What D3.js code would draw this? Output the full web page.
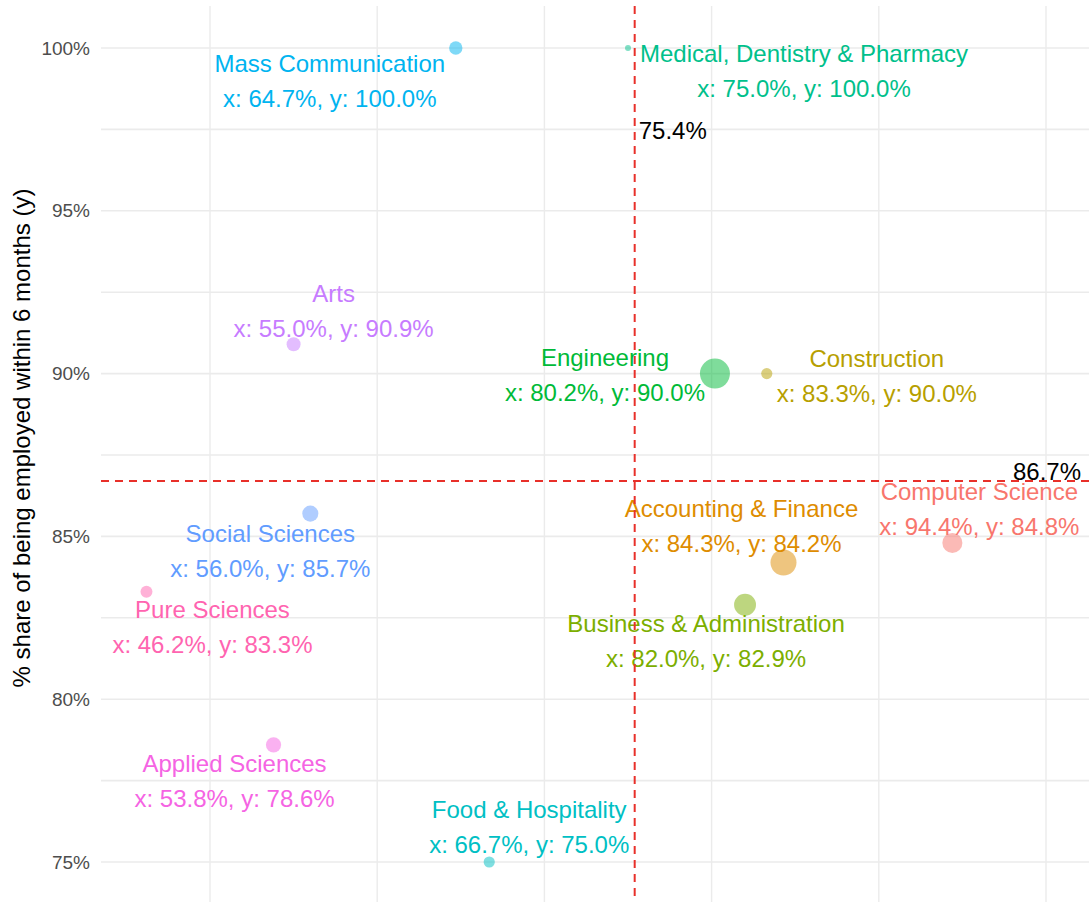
<!DOCTYPE html>
<html>
<head>
<meta charset="utf-8">
<script src="https://cdn.jsdelivr.net/npm/d3@7"></script>
<style>
  body { margin: 0; background: #fff; }
  svg { display: block; font-family: "Liberation Sans", Arial, sans-serif; }
</style>
</head>
<body>
<div id="chart"></div>
<script>
// data
const fields = ["Mass Communication", "Medical, Dentistry & Pharmacy", "Arts", "Engineering",
  "Construction", "Social Sciences", "Computer Science", "Accounting & Finance",
  "Pure Sciences", "Business & Administration", "Applied Sciences", "Food & Hospitality"]
const xValues = [64.7, 75.0, 55.0, 80.2, 83.3, 56.0, 94.4, 84.3, 46.2, 82.0, 53.8, 66.7]
const yValues = [100.0, 100.0, 90.9, 90.0, 90.0, 85.7, 84.8, 84.2, 83.3, 82.9, 78.6, 75.0]
const respondents = [20, 4, 22, 101, 14, 29, 45, 76, 16, 54, 26, 14]
const fieldColors = ["#00B4F0", "#00C08B", "#C77CFF", "#00BA38", "#B79F00", "#619CFF",
  "#F8766D", "#DE8C00", "#FF64B0", "#7CAE00", "#F564E3", "#00BFC4"]
const xMean = 75.4
, yMean = 86.7
const yTicks = [75, 80, 85, 90, 95, 100]
const yMinor = [77.5, 82.5, 87.5, 92.5, 97.5]
const xGrid = [50, 60, 70, 80, 90, 100]
const yTitle = "% share of being employed within 6 months (y)"

// label placement relative to each point (px): [dx, dy of first baseline]
const labelOffsets = [[-126, 24], [176, 14], [40, -42], [-110, -8], [110, -7], [-40, 28],
  [27, -43], [-42, -45], [66, 26], [-39, 27], [-39, 27], [40, -44]]

const W = 1089, H = 902
, panel = {left: 101, right: W, top: 6, bottom: H}
, lineGap = 35
, gridColor = "#ebebeb"
, refColor = "#e8302a"

const x = d3.scaleLinear().domain([50, 100]).range([210, 1046])
const y = d3.scaleLinear().domain([75, 100]).range([862, 48])
const r = d3.scaleSqrt().domain([0, d3.max(respondents)]).range([0, 15])
const pct = d3.format(".1f")

const svg = d3.select("#chart").append("svg")
  .attr("width", W)
  .attr("height", H)

// grid
svg.append("g").selectAll("line")
  .data(yMinor.concat(yTicks))
  .enter().append("line")
  .attr("x1", panel.left).attr("x2", panel.right)
  .attr("y1", d => y(d)).attr("y2", d => y(d))
  .style("stroke", gridColor)
  .style("stroke-width", 1.6)

svg.append("g").selectAll("line")
  .data(xGrid)
  .enter().append("line")
  .attr("x1", d => x(d)).attr("x2", d => x(d))
  .attr("y1", panel.top).attr("y2", panel.bottom)
  .style("stroke", gridColor)
  .style("stroke-width", 1.4)

// y axis
const yAxis = svg.append("g")
  .attr("transform", `translate(${panel.left - 4},0)`)
  .call(d3.axisLeft(y).tickValues(yTicks).tickSize(0).tickPadding(7).tickFormat(d => d + "%"))
yAxis.select(".domain").remove()
yAxis.selectAll("text")
  .style("font-family", "Liberation Sans, Arial, sans-serif")
  .style("font-size", "19px")
  .style("fill", "#4d4d4d")

svg.append("text")
  .attr("transform", `translate(30,${(panel.top + 870) / 2}) rotate(-90)`)
  .attr("text-anchor", "middle")
  .style("font-size", "24px")
  .style("fill", "#000")
  .text(yTitle)

// points
const rows = fields.map((f, i) => ({
  name: f, x: xValues[i], y: yValues[i], n: respondents[i],
  color: fieldColors[i], off: labelOffsets[i]
}))

svg.append("g").selectAll("circle")
  .data(rows)
  .enter().append("circle")
  .attr("cx", d => x(d.x))
  .attr("cy", d => y(d.y))
  .attr("r", d => r(d.n))
  .style("fill", d => d.color)
  .style("opacity", 0.5)

// labels
const labels = svg.append("g").selectAll("text")
  .data(rows)
  .enter().append("text")
  .attr("text-anchor", "middle")
  .style("font-size", "24px")
  .style("fill", d => d.color)

labels.append("tspan")
  .attr("x", d => x(d.x) + d.off[0])
  .attr("y", d => y(d.y) + d.off[1])
  .text(d => d.name)

labels.append("tspan")
  .attr("x", d => x(d.x) + d.off[0])
  .attr("y", d => y(d.y) + d.off[1] + lineGap)
  .text(d => `x: ${pct(d.x)}%, y: ${pct(d.y)}%`)

// reference lines
svg.append("line")
  .attr("x1", x(xMean)).attr("x2", x(xMean))
  .attr("y1", panel.top).attr("y2", panel.bottom)
  .style("stroke", refColor)
  .style("stroke-width", 2)
  .style("stroke-dasharray", "8, 6")

svg.append("line")
  .attr("x1", panel.left).attr("x2", panel.right)
  .attr("y1", y(yMean)).attr("y2", y(yMean))
  .style("stroke", refColor)
  .style("stroke-width", 2)
  .style("stroke-dasharray", "8, 6")

svg.append("text")
  .attr("x", x(xMean) + 4)
  .attr("y", 139)
  .style("font-size", "24px")
  .style("fill", "#000")
  .text(pct(xMean) + "%")

svg.append("text")
  .attr("x", W - 8)
  .attr("y", y(yMean) - 1)
  .attr("text-anchor", "end")
  .style("font-size", "24px")
  .style("fill", "#000")
  .text(pct(yMean) + "%")
</script>
</body>
</html>
